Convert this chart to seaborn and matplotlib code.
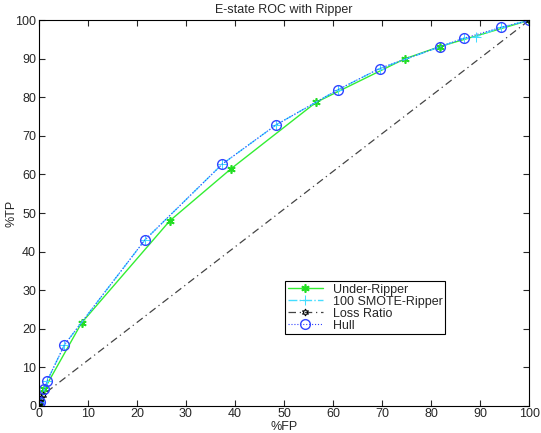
import matplotlib
matplotlib.use("Agg")
import matplotlib.pyplot as plt
import seaborn as sns

# ROC points (%FP, %TP)
under_fp = [0, 0.2, 1.1, 8.7, 26.7, 39.2, 56.5, 74.6, 81.8, 100]
under_tp = [0, 1.0, 4.3, 21.5, 48.0, 61.5, 78.7, 90.0, 93.2, 100]

smote_fp = [0, 0.2, 1.7, 5.2, 21.6, 37.4, 48.4, 61.0, 69.5, 86.8, 89.1, 94.3, 100]
smote_tp = [0, 1.0, 6.5, 15.8, 43.0, 62.7, 72.9, 82.0, 87.5, 95.4, 95.7, 98.2, 100]

loss_fp = [0, 0.2, 0.5, 0.8, 100]
loss_tp = [0, 1.0, 2.0, 2.8, 100]

hull_fp = [0, 0.2, 1.1, 1.7, 5.2, 21.6, 37.4, 48.4, 61.0, 69.5, 81.8, 86.8, 94.3, 100]
hull_tp = [0, 1.0, 4.3, 6.5, 15.8, 43.0, 62.7, 72.9, 82.0, 87.5, 93.2, 95.4, 98.2, 100]

sns.set_style("ticks")
plt.rcParams['font.family'] = ['Liberation Sans', 'DejaVu Sans']

fig = plt.figure(figsize=(5.41, 4.33), dpi=100)
ax = fig.add_axes([0.072, 0.063, 0.906, 0.89])

sns.lineplot(x=under_fp, y=under_tp, sort=False, estimator=None, ax=ax,
             color='#33ee33', linestyle='-', linewidth=1, marker=(6, 2, 0),
             markersize=6, markeredgecolor='#22dd22', markeredgewidth=1.2,
             label='Under-Ripper')
sns.lineplot(x=smote_fp, y=smote_tp, sort=False, estimator=None, ax=ax,
             color='#44ddff', linestyle='-.', linewidth=1, marker='+',
             markersize=7, markeredgecolor='#44ddff', label='100 SMOTE-Ripper')
sns.lineplot(x=loss_fp, y=loss_tp, sort=False, estimator=None, ax=ax,
             color='#444444', linestyle=(0, (6, 3, 1, 3)), linewidth=0.9,
             marker=(6, 1, 0), markersize=5, markerfacecolor='none',
             markeredgecolor='black', label='Loss Ratio')
sns.lineplot(x=hull_fp, y=hull_tp, sort=False, estimator=None, ax=ax,
             color='#3344ff', linestyle=':', linewidth=0.8, marker='o',
             markersize=7, markerfacecolor='none', markeredgecolor='#3344ff',
             markeredgewidth=1, label='Hull')

ax.set_xlim(0, 100)
ax.set_ylim(0, 100)
ax.set_xticks(range(0, 101, 10))
ax.set_yticks(range(0, 101, 10))
ax.tick_params(direction='in', top=True, right=True, labelsize=9, length=4, pad=2)
for s in ax.spines.values():
    s.set_visible(True)
    s.set_linewidth(0.8)
    s.set_color('black')
ax.set_xlabel('%FP', fontsize=9, labelpad=0)
ax.set_ylabel('%TP', fontsize=9, labelpad=0)
ax.xaxis.set_label_coords(0.5, -0.040)
ax.yaxis.set_label_coords(-0.044, 0.5)
ax.set_title('E-state ROC with Ripper', fontsize=9, pad=5)

leg = ax.legend(loc='lower left', bbox_to_anchor=(0.502, 0.186), fontsize=9,
                frameon=True, fancybox=False, framealpha=1, borderpad=0.2,
                labelspacing=0.0, handlelength=2.8, handletextpad=0.8,
                borderaxespad=0)
leg.get_frame().set_edgecolor('black')
leg.get_frame().set_linewidth(0.8)

fig.savefig('out.png', dpi=100)
